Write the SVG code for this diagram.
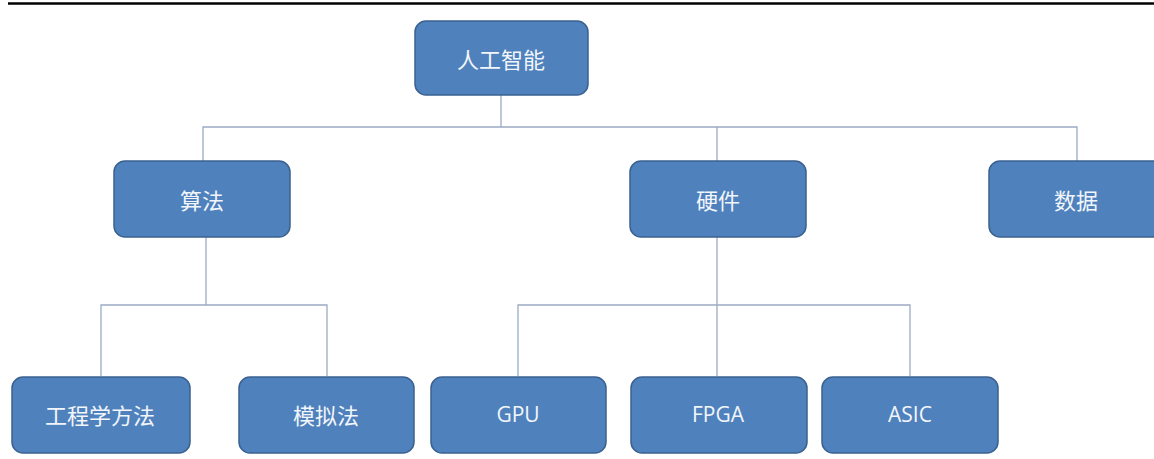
<svg xmlns="http://www.w3.org/2000/svg" width="1154" height="459" viewBox="0 0 1154 459">
<style>
.box{fill:#4F81BD;stroke:#3B618F;stroke-width:1.5}
.lbl{fill:#F2F6FB;font-family:"Noto Sans CJK SC","Noto Sans",sans-serif;font-size:22px;text-anchor:middle;dominant-baseline:central}
.lbl.en{font-family:"Open Sans","Noto Sans",sans-serif;font-size:21px}
.con{fill:none;stroke:#9BABC2;stroke-width:1.3}
</style>
<rect width="1154" height="459" fill="#FFFFFF"/>
<line x1="8" y1="3.5" x2="1154" y2="3.5" stroke="#000" stroke-width="2.5"/>
<g id="connectors">
<path class="con" d="M501 95 V127 M203 161 V127 H1077 V161 M717 127 V161"/>
<path class="con" d="M206 237 V305 M101 376 V305 H327 V376"/>
<path class="con" d="M717 237 V376 M518 376 V305 H910 V376"/>
</g>
<g id="n-root"><rect class="box" x="415" y="21" width="173" height="74" rx="11"/><text class="lbl" x="501" y="58">人工智能</text></g>
<g id="n-suanfa"><rect class="box" x="114" y="161" width="176" height="76" rx="11"/><text class="lbl" x="202" y="199">算法</text></g>
<g id="n-yingjian"><rect class="box" x="630" y="161" width="176" height="76" rx="11"/><text class="lbl" x="718" y="199">硬件</text></g>
<g id="n-shuju"><rect class="box" x="989" y="161" width="180" height="76" rx="11"/><text class="lbl" x="1076" y="199">数据</text></g>
<g id="n-gongcheng"><rect class="box" x="12" y="377" width="178" height="76" rx="11"/><text class="lbl" x="100" y="414">工程学方法</text></g>
<g id="n-moni"><rect class="box" x="239" y="377" width="175" height="76" rx="11"/><text class="lbl" x="326" y="414">模拟法</text></g>
<g id="n-gpu"><rect class="box" x="431" y="377" width="175" height="76" rx="11"/><text class="lbl en" x="518" y="414">GPU</text></g>
<g id="n-fpga"><rect class="box" x="631" y="377" width="176" height="76" rx="11"/><text class="lbl en" x="718" y="414">FPGA</text></g>
<g id="n-asic"><rect class="box" x="822" y="377" width="176" height="76" rx="11"/><text class="lbl en" x="910" y="414">ASIC</text></g>
</svg>
